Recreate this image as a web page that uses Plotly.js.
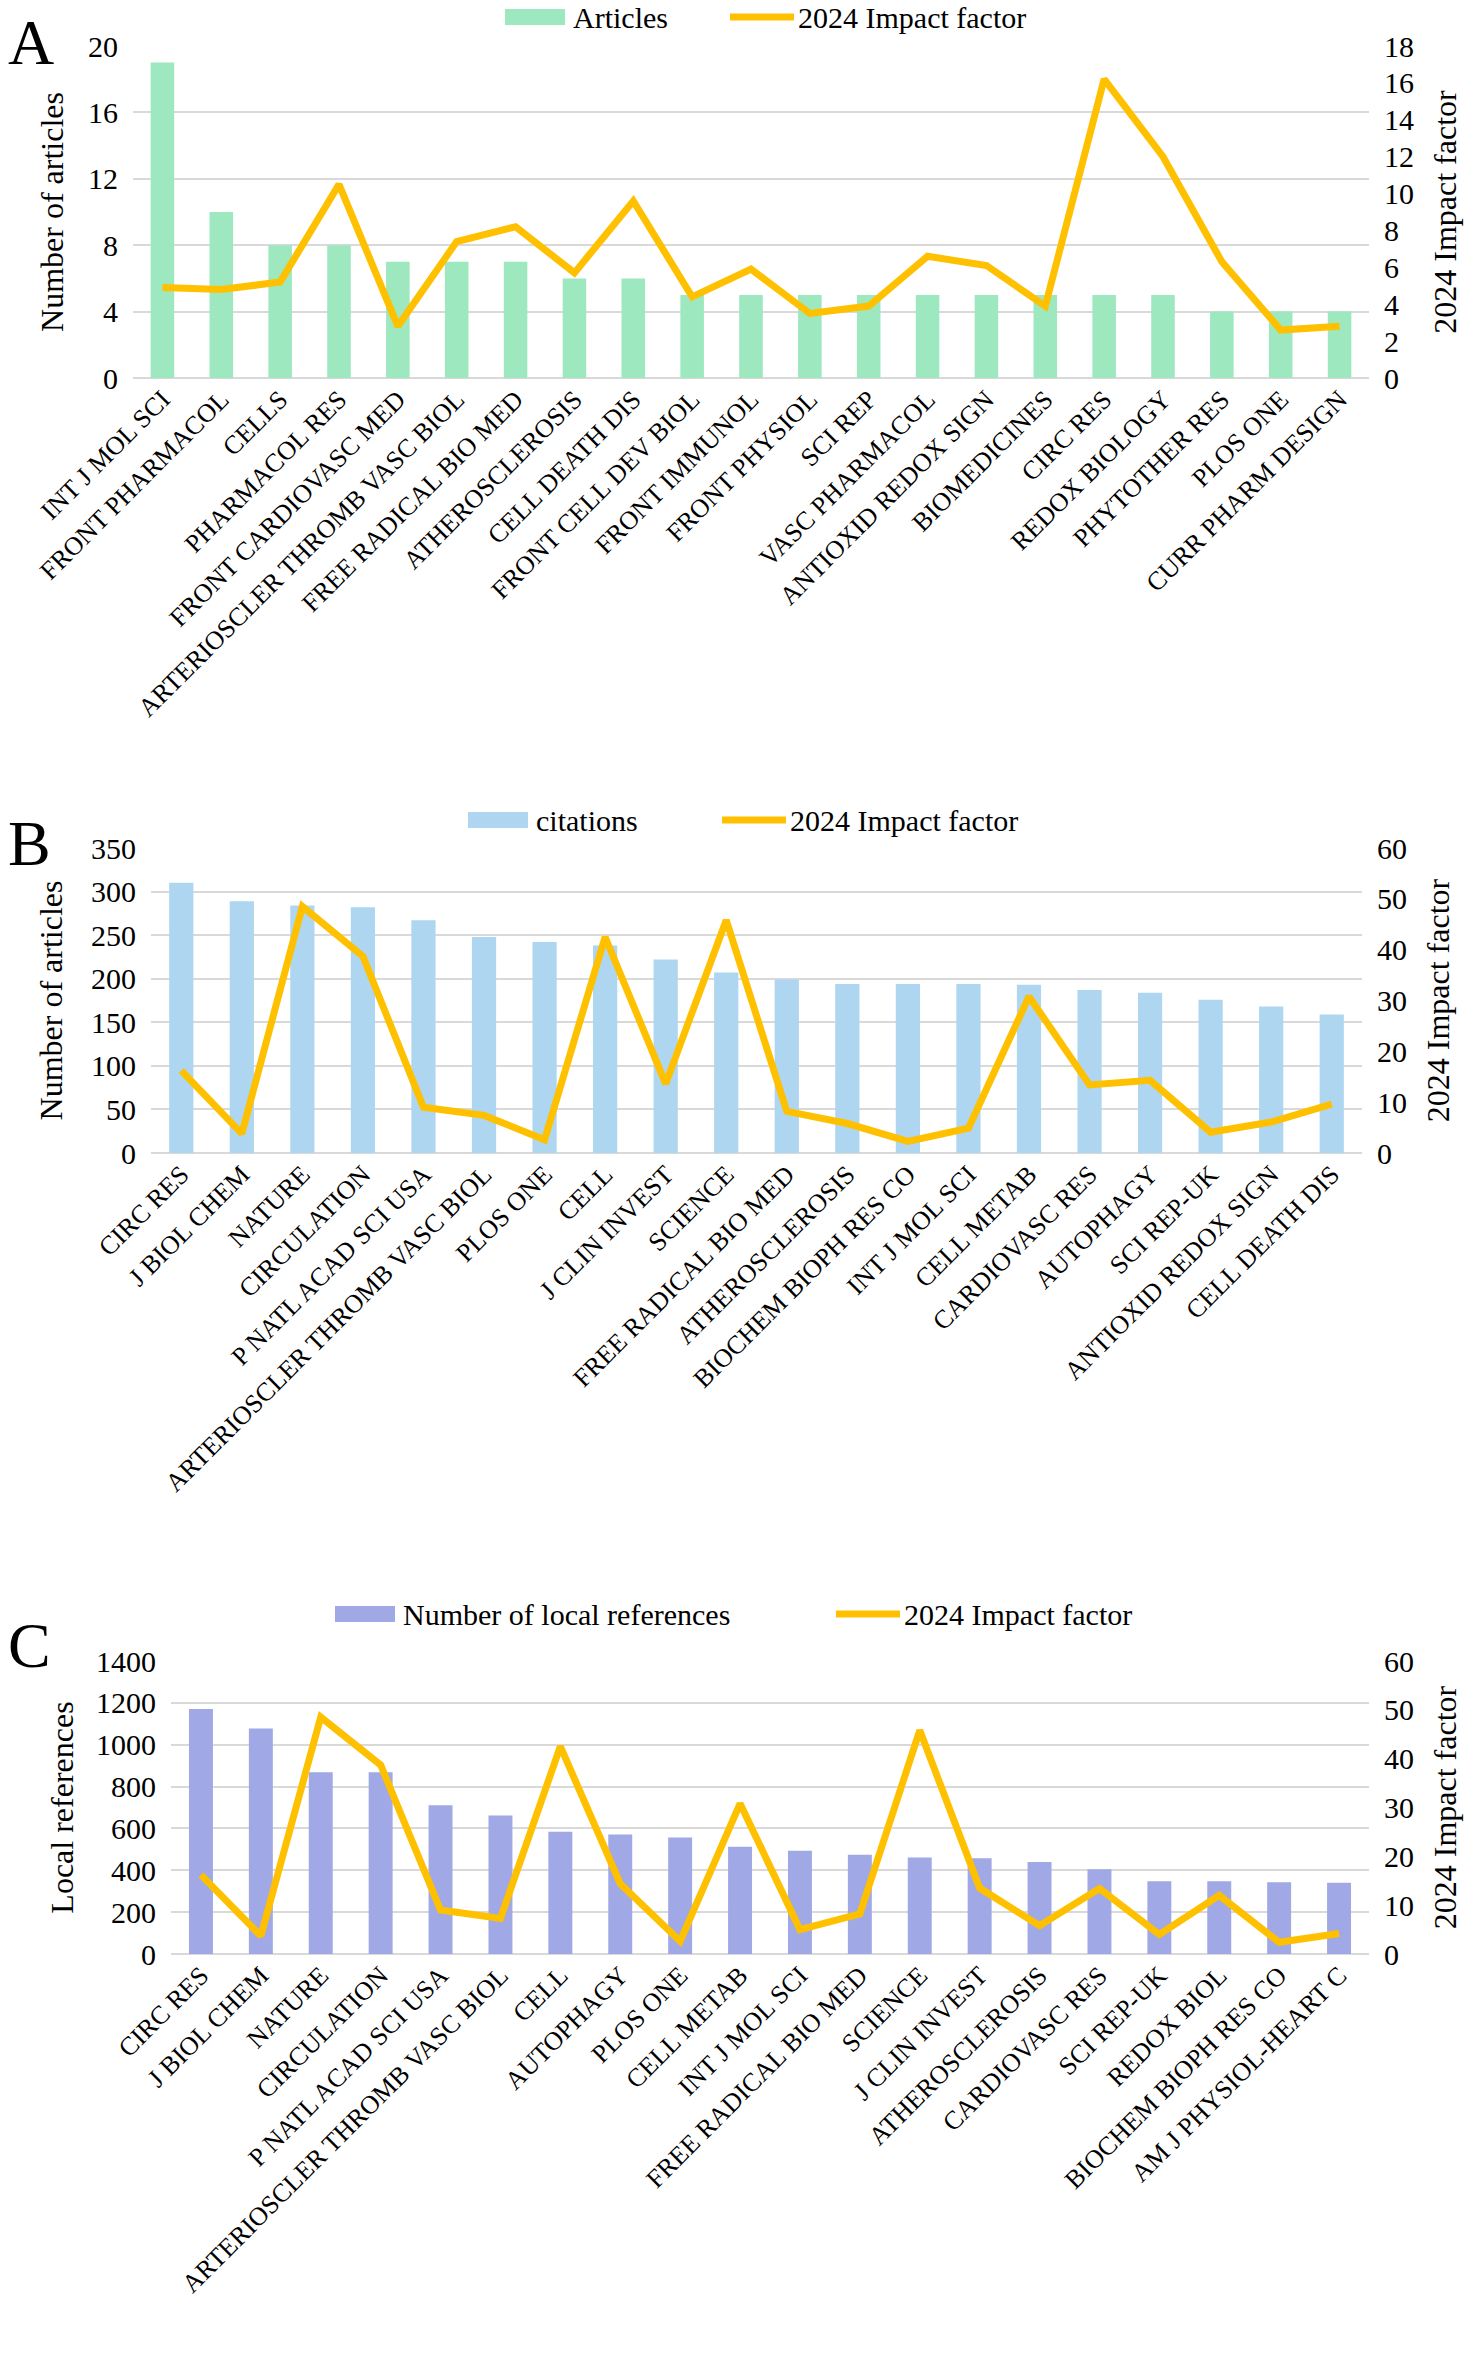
<!DOCTYPE html>
<html lang="en">

<head>
    <meta charset="utf-8">
    <title>Journals</title>
    <script src="https://cdn.plot.ly/plotly-3.0.1.min.js"></script>
    <style>
        body,
        html {
            margin: 0;
            padding: 0;
            background: #fff;
        }

        #plotA,
        #plotB {
            width: 1477px;
            height: 790px;
        }

        #plotC {
            width: 1477px;
            height: 800px;
        }
    </style>
</head>

<body>
    <div id="plotA"></div>
    <div id="plotB"></div>
    <div id="plotC"></div>

    <script>
        // Panel A: most productive journals
        const journalsA = ["INT J MOL SCI", "FRONT PHARMACOL", "CELLS", "PHARMACOL RES",
            "FRONT CARDIOVASC MED", "ARTERIOSCLER THROMB VASC BIOL", "FREE RADICAL BIO MED",
            "ATHEROSCLEROSIS", "CELL DEATH DIS", "FRONT CELL DEV BIOL", "FRONT IMMUNOL",
            "FRONT PHYSIOL", "SCI REP", "VASC PHARMACOL", "ANTIOXID REDOX SIGN", "BIOMEDICINES",
            "CIRC RES", "REDOX BIOLOGY", "PHYTOTHER RES", "PLOS ONE", "CURR PHARM DESIGN"];
        const articlesA = [19, 10, 8, 8, 7, 7, 7, 6, 6, 5, 5, 5, 5, 5, 5, 5, 5, 5, 4, 4, 4];
        const impactA = [4.9, 4.8, 5.2, 10.5, 2.8, 7.4, 8.2, 5.7, 9.6, 4.4, 5.9,
            3.5, 3.9, 6.6, 6.1, 3.9, 16.2, 12.0, 6.3, 2.6, 2.8];

        // Panel B: most cited journals
        const journalsB = ["CIRC RES", "J BIOL CHEM", "NATURE", "CIRCULATION", "P NATL ACAD SCI USA",
            "ARTERIOSCLER THROMB VASC BIOL", "PLOS ONE", "CELL", "J CLIN INVEST", "SCIENCE",
            "FREE RADICAL BIO MED", "ATHEROSCLEROSIS", "BIOCHEM BIOPH RES CO", "INT J MOL SCI",
            "CELL METAB", "CARDIOVASC RES", "AUTOPHAGY", "SCI REP-UK", "ANTIOXID REDOX SIGN",
            "CELL DEATH DIS"];
        const citationsB = [310, 289, 284, 282, 267, 248, 242, 238, 222, 207,
            199, 194, 194, 194, 193, 187, 184, 176, 168, 159];
        const impactB = [16.2, 3.8, 48.5, 38.7, 9.0, 7.4, 2.6, 42.5, 13.6, 45.8,
            8.2, 5.8, 2.3, 4.9, 30.8, 13.4, 14.3, 4.1, 6.1, 9.6];

        // Panel C: local references
        const journalsC = ["CIRC RES", "J BIOL CHEM", "NATURE", "CIRCULATION", "P NATL ACAD SCI USA",
            "ARTERIOSCLER THROMB VASC BIOL", "CELL", "AUTOPHAGY", "PLOS ONE", "CELL METAB",
            "INT J MOL SCI", "FREE RADICAL BIO MED", "SCIENCE", "J CLIN INVEST", "ATHEROSCLEROSIS",
            "CARDIOVASC RES", "SCI REP-UK", "REDOX BIOL", "BIOCHEM BIOPH RES CO",
            "AM J PHYSIOL-HEART C"];
        const localRefsC = [1171, 1077, 869, 869, 711, 662, 584, 571, 557, 512,
            493, 474, 461, 458, 439, 405, 348, 348, 343, 340];
        const impactC = [16.2, 3.7, 48.5, 38.7, 9.0, 7.3, 42.5, 14.4, 2.6, 30.8,
            5.0, 8.2, 45.8, 13.5, 5.8, 13.4, 4.0, 12.0, 2.4, 4.2];

        const FONT = "Liberation Serif, Times New Roman, serif";
        const GOLD = "#FFC000";
        const W = 1477;

        function drawPanel(div, opts) {
            const m = opts.margin;
            const plotW = W - m.l - m.r;
            const plotH = opts.height - m.t - m.b;
            // pixel position inside the panel -> paper coordinates
            const px = function (x) { return (x - m.l) / plotW; };
            const py = function (y) { return 1 - (y - m.t) / plotH; };

            const bars = {
                type: "bar",
                x: opts.cats,
                y: opts.bars,
                name: opts.barName,
                marker: { color: opts.barColor },
                width: 0.4,
                yaxis: "y"
            };
            const line = {
                type: "scatter",
                mode: "lines",
                x: opts.cats,
                y: opts.impact,
                name: "2024 Impact factor",
                line: { color: GOLD, width: 7 },
                yaxis: "y2"
            };

            // hand-made legend so the swatches look like the original
            const lg = opts.legend;
            const shapes = [{
                type: "rect", xref: "paper", yref: "paper",
                x0: px(lg.box), x1: px(lg.box + 60),
                y0: py(lg.y - 8), y1: py(lg.y + 8),
                fillcolor: opts.barColor, line: { width: 0 }
            }, {
                type: "line", xref: "paper", yref: "paper",
                x0: px(lg.line), x1: px(lg.line + 64),
                y0: py(lg.y), y1: py(lg.y),
                line: { color: GOLD, width: 7 }
            }];
            const annotations = [{
                text: opts.barName, xref: "paper", yref: "paper",
                x: px(lg.box + 66), y: py(lg.y), xanchor: "left", yanchor: "middle",
                showarrow: false, font: { size: 30 }
            }, {
                text: "2024 Impact factor", xref: "paper", yref: "paper",
                x: px(lg.line + 66), y: py(lg.y), xanchor: "left", yanchor: "middle",
                showarrow: false, font: { size: 30 }
            }, {
                text: opts.letter, xref: "paper", yref: "paper",
                x: px(6), y: py(opts.letterY),
                xanchor: "left", yanchor: "middle",
                showarrow: false, font: { size: 64 }
            }];

            const layout = {
                font: { family: FONT, size: 30, color: "#000" },
                margin: m,
                showlegend: false,
                xaxis: {
                    type: "category",
                    tickangle: -45,
                    tickfont: { size: 26 },
                    showgrid: false,
                    showline: false,
                    fixedrange: true
                },
                yaxis: {
                    range: opts.leftRange,
                    dtick: opts.leftDtick,
                    gridcolor: "#D9D9D9",
                    gridwidth: 2,
                    zeroline: true,
                    zerolinecolor: "#D9D9D9",
                    zerolinewidth: 2,
                    ticklabelstandoff: 14,
                    title: { text: opts.leftTitle, font: { size: 32 }, standoff: opts.leftStandoff }
                },
                yaxis2: {
                    overlaying: "y",
                    side: "right",
                    range: opts.rightRange,
                    dtick: opts.rightDtick,
                    showgrid: false,
                    zeroline: false,
                    ticklabelstandoff: 14,
                    title: { text: "2024 Impact factor", font: { size: 32 }, standoff: opts.rightStandoff }
                },
                bargap: 0.6,
                plot_bgcolor: "#fff",
                paper_bgcolor: "#fff",
                shapes: shapes,
                annotations: annotations
            };
            Plotly.newPlot(div, [bars, line], layout, { staticPlot: true });
        }

        drawPanel("plotA", {
            height: 790,
            cats: journalsA, bars: articlesA, impact: impactA,
            barName: "Articles", barColor: "#9DE8BF",
            margin: { l: 133, r: 108, t: 46, b: 412 },
            leftRange: [0, 20], leftDtick: 4, rightRange: [0, 18], rightDtick: 2,
            leftTitle: "Number of articles", leftStandoff: 14, rightStandoff: 20,
            legend: { box: 505, line: 730, y: 17 },
            letter: "A", letterY: 42
        });

        drawPanel("plotB", {
            height: 790,
            cats: journalsB, bars: citationsB, impact: impactB,
            barName: "citations", barColor: "#AED6F1",
            margin: { l: 151, r: 115, t: 58, b: 427 },
            leftRange: [0, 350], leftDtick: 50, rightRange: [0, 60], rightDtick: 10,
            leftTitle: "Number of articles", leftStandoff: 18, rightStandoff: 20,
            legend: { box: 468, line: 722, y: 30 },
            letter: "B", letterY: 54
        });

        drawPanel("plotC", {
            height: 800,
            cats: journalsC, bars: localRefsC, impact: impactC,
            barName: "Number of local references", barColor: "#A0A8E6",
            margin: { l: 171, r: 108, t: 81, b: 426 },
            leftRange: [0, 1400], leftDtick: 200, rightRange: [0, 60], rightDtick: 10,
            leftTitle: "Local references", leftStandoff: 12, rightStandoff: 20,
            legend: { box: 335, line: 836, y: 34 },
            letter: "C", letterY: 66
        });
    </script>
</body>

</html>
